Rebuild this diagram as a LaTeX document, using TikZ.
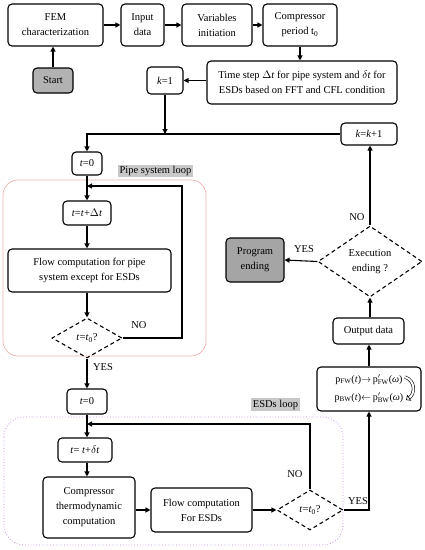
\documentclass[tikz,border=0pt]{standalone}
\usepackage{fontspec}
\setmainfont{Liberation Serif}
\usetikzlibrary{shapes.geometric,arrows.meta}
\definecolor{pinkb}{RGB}{240,175,175}
\definecolor{purpb}{RGB}{195,140,230}
\definecolor{lblgray}{RGB}{200,200,200}
\definecolor{startgray}{RGB}{178,178,178}
\definecolor{endgray}{RGB}{165,165,165}
\newcommand\pprime[1]{$\mathrm{p}'_{\mathrm{#1}}$}
\begin{document}
\begin{tikzpicture}[x=1pt,y=-1pt, font=\fontsize{10.5}{15}\selectfont,
  box/.style={draw, line width=1.1pt, rounded corners=4pt, align=center, inner sep=0pt},
  dia/.style={diamond, draw, line width=1.1pt, dash pattern=on 4pt off 3pt, inner sep=0pt, align=center},
  arr/.style={line width=1.1pt, -{Triangle[length=5pt,width=5pt]}},
  ln/.style={line width=1.1pt},
  lbl/.style={fill=lblgray, inner sep=1.5pt},
  txt/.style={inner sep=1pt}]
\useasboundingbox (0,0) rectangle (425,550);
% loop frames
\draw[pinkb, line width=0.7pt, rounded corners=15pt] (3,180) rectangle (206,356);
\draw[purpb, line width=0.8pt, dotted, rounded corners=20pt] (4,417) rectangle (343,545);
% top row
\node[box, minimum width=95, minimum height=42] (fem) at (55.5,25) {FEM\\characterization};
\node[box, minimum width=43, minimum height=42] (inp) at (142.5,25) {Input\\data};
\node[box, minimum width=70, minimum height=42] (var) at (217,25) {Variables\\initiation};
\node[box, minimum width=74, minimum height=42] (comp) at (300,25) {Compressor\\period t\textsubscript{0}};
\node[box, fill=startgray, minimum width=40, minimum height=25] (start) at (53,80.5) {Start};
\node[box, minimum width=190, minimum height=43] (ts) at (302,82.5) {Time step $\Delta$\textit{t} for pipe system and $\delta$\textit{t} for\\ESDs based on FFT and CFL condition};
\node[box, minimum width=36, minimum height=27] (k1) at (165,80.5) {\textit{k}=1};
\node[box, minimum width=56, minimum height=22] (kk) at (369,134) {\textit{k}=\textit{k}+1};
% pipe loop
\node[box, minimum width=30, minimum height=23] (t01) at (87,163.5) {\textit{t}=0};
\node[lbl] (pl) at (155.5,171) {Pipe system loop};
\node[box, minimum width=48, minimum height=24] (ttd) at (87,213) {\textit{t}=\textit{t}+$\Delta$\textit{t}};
\node[box, minimum width=163, minimum height=43] (flow1) at (89.5,270.5) {Flow computation for pipe\\system except for ESDs};
\node[dia, minimum width=70, minimum height=40] (d1) at (87,338) {\textit{t}=\textit{t}\textsubscript{0}?};
\node[txt] (no1) at (139,325) {NO};
\node[txt] (yes1) at (103,367) {YES};
% ESD loop
\node[box, minimum width=40, minimum height=25] (t02) at (87,401.5) {\textit{t}=0};
\node[lbl] (el) at (275.5,404.5) {ESDs loop};
\node[box, minimum width=54, minimum height=24] (ttdel) at (85,450) {\textit{t}= \textit{t}+$\delta$\textit{t}};
\node[box, minimum width=92, minimum height=61] (cth) at (89,507.5) {Compressor\\thermodynamic\\computation};
\node[box, minimum width=101, minimum height=44] (flow2) at (201.5,510) {Flow computation\\For ESDs};
\node[dia, minimum width=66, minimum height=40] (d2) at (310,510) {\textit{t}=\textit{t}\textsubscript{0}?};
\node[txt] (no2) at (295,474) {NO};
\node[txt] (yes2) at (358,501) {YES};
% right column
\node[box, minimum width=104, minimum height=44, font=\fontsize{10}{18}\selectfont] (pb) at (369,389) {p\textsubscript{FW}(\textit{t})$\rightarrow$\,\pprime{FW}(\textit{ω})\hspace{9pt}\\p\textsubscript{BW}(\textit{t})$\leftarrow$\,\pprime{BW}(\textit{ω})\hspace{9pt}};
\node[box, minimum width=71, minimum height=26] (out) at (368.5,331) {Output data};
\node[dia, aspect=1.5, minimum width=104, minimum height=71] (ex) at (370,261.5) {Execution\\ending ?};
\node[box, fill=endgray, minimum width=58, minimum height=44] (pe) at (255,260) {Program\\ending};
\node[txt] (yes3) at (304,249) {YES};
\node[txt] (no3) at (357,217) {NO};
% connectors
\coordinate (r1) at (182,186);
\coordinate (j1) at (87,186);
\coordinate (j2) at (87,424);
\draw[arr] (start.north) -- (start.north |- fem.south);
\draw[arr] (fem) -- (inp);
\draw[arr] (inp) -- (var);
\draw[arr] (var) -- (comp);
\draw[arr] (comp.south) -- (comp.south |- ts.north);
\draw[arr] (ts.west |- k1) -- (k1.east);
\draw[arr] (k1.south) -- (k1.south |- kk.west);
\draw[arr] (kk.west) -- (t01.north |- kk.west) -- (t01.north);
\draw[arr] (t01.south) -- (ttd.north);
\draw[arr] (ttd.south) -- (ttd.south |- flow1.north);
\draw[arr] (flow1.south -| d1.north) -- (d1.north);
\draw[arr] (d1.east) -| (r1) -- (j1);
\draw[arr] (d1.south) -- (t02.north);
\draw[arr] (t02.south) -- (t02.south |- ttdel.north);
\draw[arr] (d2.north) |- (j2);
\draw[arr] (ttdel.south -| t02.south) -- (t02.south |- cth.north);
\draw[arr] (cth.east |- flow2) -- (flow2.west);
\draw[arr] (flow2.east) -- (d2.west);
\draw[arr] (d2.east) -| (pb.south);
\draw[arr] (pb.north) -- (pb.north |- out.south);
\draw[arr] (out.north -| ex.south) -- (ex.south);
\draw[arr] (ex.north) -- (ex.north |- kk.south);
\draw[arr] (ex.west) -- (pe.east);
% curved hollow arrow in p box
\draw[line width=0.6pt, double distance=2pt, -{Triangle[open,length=4pt,width=7pt]}] (405,377) .. controls (416,381) and (415,394) .. (406,400);
\end{tikzpicture}
\end{document}
